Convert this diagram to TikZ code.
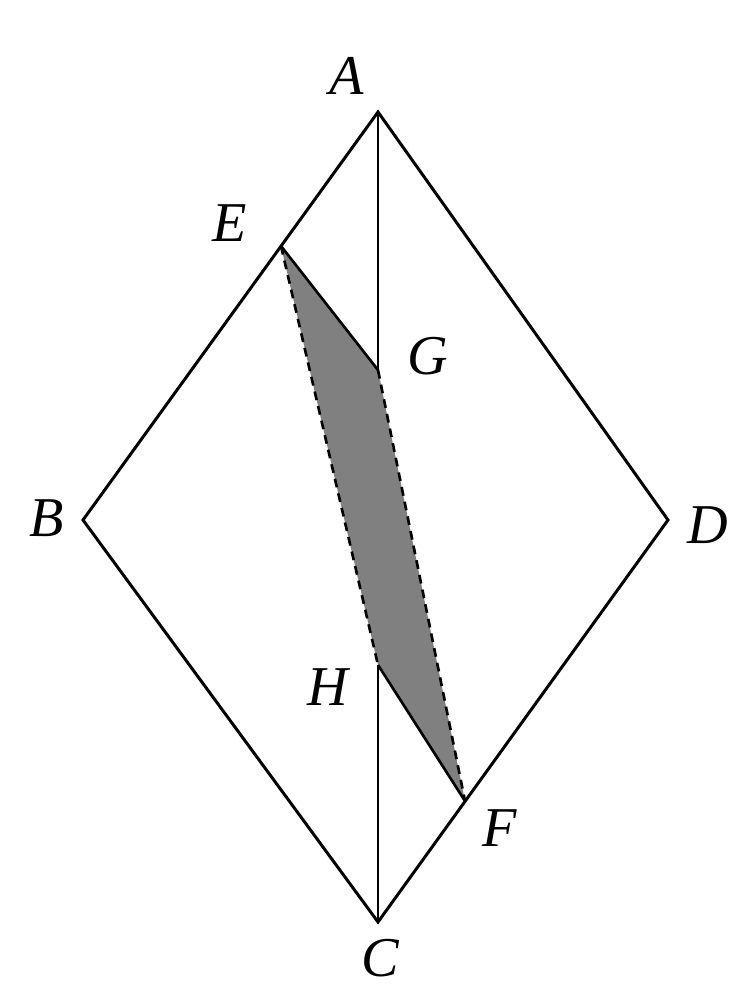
\documentclass[tikz,border=0pt]{standalone}
\usepackage{fontspec}
\setmainfont{Liberation Serif}
\begin{document}
\begin{tikzpicture}[x=0.02cm,y=-0.02cm, every node/.style={font=\fontsize{32}{36}\selectfont\itshape}]
  \useasboundingbox (0,0) rectangle (741,990);
  \coordinate (A) at (378,112);
  \coordinate (B) at (83,520);
  \coordinate (C) at (378,922);
  \coordinate (D) at (668,520);
  \coordinate (E) at (281,246);
  \coordinate (F) at (465,801);
  \coordinate (G) at (378,370);
  \coordinate (H) at (378,665);
  \fill[black!50] (E) -- (G) -- (F) -- (H) -- cycle;
  \draw[line width=1.7pt,line join=miter] (A) -- (B) -- (C) -- (D) -- cycle;
  \draw[line width=1.7pt] (A) -- (G);
  \draw[line width=1.7pt] (H) -- (C);
  \draw[line width=1.5pt] (E) -- (G);
  \draw[line width=1.5pt] (H) -- (F);
  \draw[line width=1.5pt,dash pattern=on 5pt off 3.5pt] (E) -- (H);
  \draw[line width=1.5pt,dash pattern=on 5pt off 3.5pt] (G) -- (F);
  \node (labA) at (347,76) {A};
  \node (labE) at (230,223) {E};
  \node (labG) at (428,356) {G};
  \node (labB) at (47,518) {B};
  \node (labD) at (708,525) {D};
  \node (labH) at (328,687) {H};
  \node (labF) at (500,828) {F};
  \node (labC) at (380,958) {C};
\end{tikzpicture}
\end{document}
